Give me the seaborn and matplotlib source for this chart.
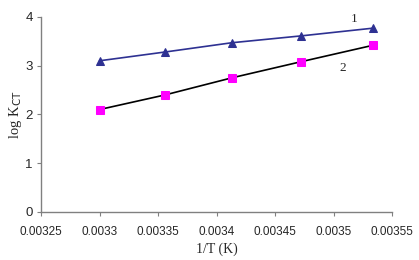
import matplotlib
matplotlib.use("Agg")
import matplotlib.pyplot as plt
import seaborn as sns
import pandas as pd

# === Données ===
inv_T = [0.003300, 0.003356, 0.003413, 0.003472, 0.003534]
log_k_1 = [3.10, 3.28, 3.47, 3.61, 3.77]
log_k_2 = [2.10, 2.40, 2.75, 3.08, 3.42]
x_ticks = [0.00325, 0.0033, 0.00335, 0.0034, 0.00345, 0.0035, 0.00355]
x_tick_labels = ["0.00325", "0.0033", "0.00335", "0.0034", "0.00345", "0.0035", "0.00355"]
y_ticks = [0, 1, 2, 3, 4]

COLOR_1 = "#2E3192"
COLOR_2 = "#000000"
COLOR_SQ = "#FF00FF"
COLOR_AXIS = "#808080"

df = pd.DataFrame({"x": inv_T, "s1": log_k_1, "s2": log_k_2})

sns.set_style("white")
fig, ax = plt.subplots(figsize=(4.19, 2.6), dpi=100)
fig.subplots_adjust(left=0.098, right=0.936, top=0.935, bottom=0.185)

sns.lineplot(data=df, x="x", y="s1", ax=ax, color=COLOR_1, lw=1.2,
             marker="^", markersize=6, markerfacecolor=COLOR_1,
             markeredgecolor=COLOR_1)
sns.lineplot(data=df, x="x", y="s2", ax=ax, color=COLOR_2, lw=1.2,
             marker="s", markersize=6, markerfacecolor=COLOR_SQ,
             markeredgecolor=COLOR_SQ)

ax.text(0.003515, 3.90, "1", fontsize=9.5, family="Liberation Serif")
ax.text(0.003505, 2.88, "2", fontsize=9.5, family="Liberation Serif")

ax.set_xlim(0.00325, 0.00355)
ax.set_ylim(0, 4)
ax.set_xticks(x_ticks)
ax.set_xticklabels(x_tick_labels, family="Liberation Sans", fontsize=8.5)
ax.set_yticks(y_ticks)
ax.set_yticklabels([str(v) for v in y_ticks], family="Liberation Sans", fontsize=9.5)

ax.set_xlabel("1/T (K)", family="Liberation Serif", fontsize=10)
ax.set_ylabel(r"log K$_{\rm CT}$", family="Liberation Serif", fontsize=10.5)
ax.xaxis.set_label_coords(0.5, -0.155)
ax.yaxis.set_label_coords(-0.05, 0.5)

for side in ["top", "right"]:
    ax.spines[side].set_visible(False)
for side in ["left", "bottom"]:
    ax.spines[side].set_color(COLOR_AXIS)
    ax.spines[side].set_linewidth(1.0)
ax.tick_params(axis="both", direction="out", length=3, width=0.8,
               color=COLOR_AXIS, left=True, bottom=True)
ax.tick_params(axis="x", pad=7)
ax.tick_params(axis="y", pad=3)

fig.savefig("out.png", dpi=100)
